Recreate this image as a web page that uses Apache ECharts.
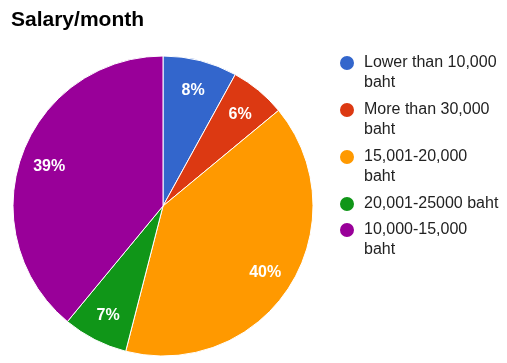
<!DOCTYPE html>
<html>
<head>
<meta charset="utf-8">
<script src="https://cdn.jsdelivr.net/npm/echarts@6/dist/echarts.min.js"></script>
<style>
  html, body { margin: 0; padding: 0; background: #fff; }
  #chart { width: 507px; height: 363px; }
</style>
</head>
<body>
<div id="chart"></div>
<script>
// salary bands, in the order the slices go clockwise from 12 o'clock
const categories = ['Lower than 10,000 baht', 'More than 30,000 baht', '15,001-20,000 baht', '20,001-25000 baht', '10,000-15,000 baht'];
const shares = [8, 6, 40, 7, 39];
// how the legend wraps each name
const legendLabels = ['Lower than 10,000\nbaht', 'More than 30,000\nbaht', '15,001-20,000\nbaht', '20,001-25000 baht', '10,000-15,000\nbaht'];
const colors = ['#3366cc', '#dc3912', '#ff9900', '#109618', '#990099'];

const chart = echarts.init(document.getElementById('chart'));

const pieData = categories.map((name, i) => ({ name: name, value: shares[i] }));

// legend item: icon sits on the first line of a wrapped label
function legendItem(name) {
  const label = legendLabels[categories.indexOf(name)];
  const twoLines = label.indexOf('\n') >= 0;
  return {
    name: name,
    textStyle: { padding: twoLines ? [10, 0, -10, 4] : [0, 0, 0, 4] }
  };
}

const legendBase = {
  orient: 'vertical',
  left: 338,
  padding: 0,
  icon: 'circle',
  itemWidth: 16,
  itemHeight: 16,
  selectedMode: false,
  formatter: name => legendLabels[categories.indexOf(name)],
  textStyle: {
    fontFamily: 'Arial, "Liberation Sans", sans-serif',
    fontSize: 16,
    lineHeight: 20,
    color: '#222',
    rich: { n: {} }
  }
};

chart.setOption({
  animation: false,
  color: colors,
  title: {
    text: 'Salary/month',
    left: 11,
    top: 10,
    padding: 0,
    textStyle: {
      fontFamily: 'Arial, "Liberation Sans", sans-serif',
      fontSize: 21,
      fontWeight: 'bold',
      color: '#000'
    }
  },
  legend: [
    Object.assign({}, legendBase, { top: 43, itemGap: -1, data: categories.slice(0, 3).map(legendItem) }),
    Object.assign({}, legendBase, { top: 194, itemGap: -4, data: categories.slice(3).map(legendItem) })
  ],
  series: [
    {
      type: 'pie',
      center: [163, 206],
      radius: [0, 150],
      startAngle: 90,
      clockwise: true,
      avoidLabelOverlap: false,
      silent: true,
      label: { show: false },
      labelLine: { show: false },
      itemStyle: { borderColor: '#fff', borderWidth: 1 },
      emphasis: { disabled: true },
      data: pieData
    },
    {
      // transparent ring that only carries the percentage labels
      type: 'pie',
      center: [163, 206],
      radius: [86, 150],
      startAngle: 90,
      clockwise: true,
      avoidLabelOverlap: false,
      silent: true,
      itemStyle: { color: 'transparent', borderWidth: 0 },
      label: {
        show: true,
        position: 'inside',
        offset: [0, 2],
        formatter: p => Math.round(p.percent) + '%',
        color: '#fff',
        fontFamily: 'Arial, "Liberation Sans", sans-serif',
        fontSize: 16,
        fontWeight: 'bold'
      },
      labelLine: { show: false },
      emphasis: { disabled: true },
      data: pieData
    }
  ]
});
</script>
</body>
</html>
